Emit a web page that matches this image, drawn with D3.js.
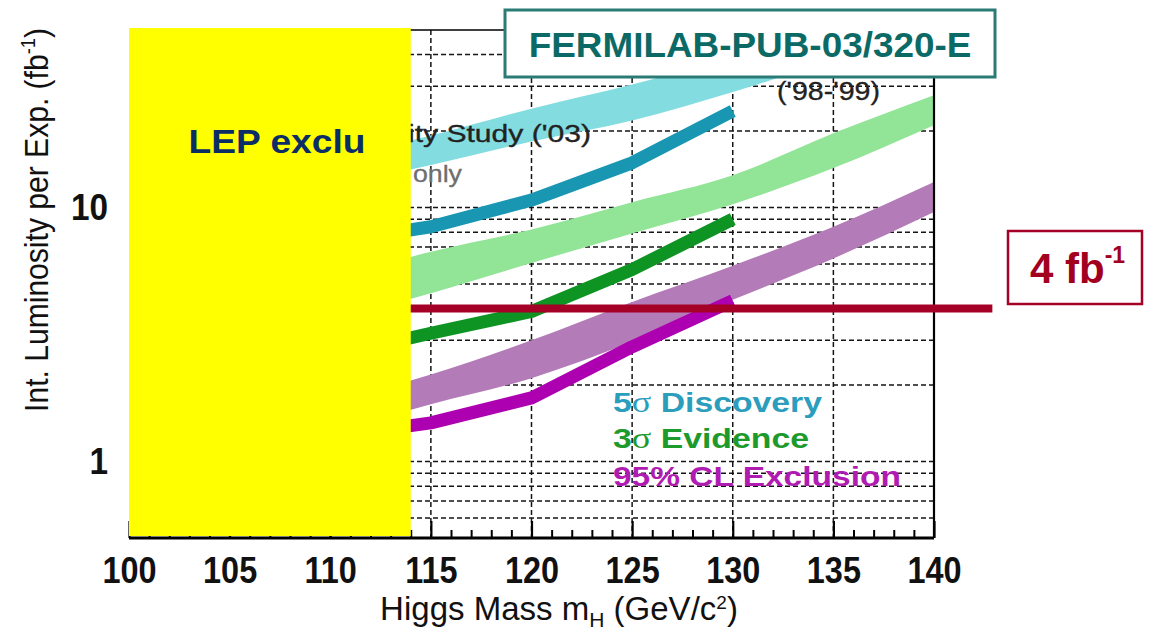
<!DOCTYPE html>
<html>
<head>
<meta charset="utf-8">
<script src="https://cdn.jsdelivr.net/npm/d3@7"></script>
<style>
  html, body { margin: 0; padding: 0; background: #fff; }
  svg { display: block; font-family: "Liberation Sans", Arial, Helvetica, sans-serif; }
</style>
</head>
<body>
<svg id="chart" width="1151" height="633"></svg>
<script>
// ---- data -------------------------------------------------------------
// Higgs mass sample points (GeV/c^2)
const bandMass = [110, 115, 120, 125, 130, 135, 140];
const lineMass = [110, 115, 120, 125, 130];

// SUSY/Higgs Workshop ('98-'99): required luminosity bands (fb^-1 per experiment)
const discovery98Lo = [12.0, 14.7, 18.2, 22.0, 28.5, 38.0, 50.0];
const discovery98Hi = [15.5, 19.2, 24.5, 30.5, 39.0, 50.0, 64.0];
const evidence98Lo  = [3.6, 4.6, 6.05, 7.9, 10.3, 14.3, 21.1];
const evidence98Hi  = [5.2, 6.7, 8.2, 10.5, 13.4, 19.6, 27.7];
const exclusion98Lo = [1.3, 1.68, 2.13, 2.96, 4.33, 6.3, 9.6];
const exclusion98Hi = [1.7, 2.2, 3.0, 4.25, 5.9, 8.4, 12.6];

// Higgs Sensitivity Study ('03), statistical power only
const discovery03 = [7.3, 8.4, 10.7, 15.0, 24.0];
const evidence03  = [2.6, 3.2, 3.9, 5.7, 9.0];
const exclusion03 = [1.25, 1.42, 1.78, 2.83, 4.3];

// axes
const massTicks = [100, 105, 110, 115, 120, 125, 130, 135, 140];
const massMinorTicks = [101,102,103,104,106,107,108,109,111,112,113,114,116,117,118,119,
                        121,122,123,124,126,127,128,129,131,132,133,134,136,137,138,139];
const lumiTicks = [1, 10];
const lumiGrid = [0.6, 0.7, 0.8, 0.9, 1, 2, 3, 4, 5, 6, 7, 8, 9, 10, 20, 30, 40];

// reference values
const lepLimit = 114;            // LEP exclusion (GeV/c^2)
const targetLumi = 4;            // fb^-1
const targetLineMass = [100, 142.9];

// ---- layout -----------------------------------------------------------
const svg = d3.select("#chart");
const x = d3.scaleLinear().domain([100, 140]).range([129, 934]);
const y = d3.scaleLog().domain([0.5, 50]).range([538, 30]);
const [x0, x1] = x.range();
const [yB, yT] = y.range();

svg.append("defs").append("clipPath").attr("id", "plotClip")
  .append("rect").attr("x", x0).attr("y", yT).attr("width", x1 - x0).attr("height", yB - yT);

// horizontal stretch factor that makes a text element span `width` pixels
function fit(sel, width) {
  return width / sel.node().getComputedTextLength();
}
// condense the glyphs of axis tick labels
function condense(sel, k) {
  sel.each(function () {
    const w = this.getComputedTextLength();
    d3.select(this).attr("textLength", w * k).attr("lengthAdjust", "spacingAndGlyphs");
  });
}

// ---- grid -------------------------------------------------------------
const grid = svg.append("g").attr("stroke", "#151515").attr("stroke-width", 1.5)
  .attr("stroke-dasharray", "5,3");
grid.selectAll("line.h").data(lumiGrid).join("line").attr("class", "h")
  .attr("x1", x0).attr("x2", x1).attr("y1", d => y(d)).attr("y2", d => y(d));
grid.selectAll("line.v").data(massTicks.slice(1, -1)).join("line").attr("class", "v")
  .attr("y1", yT).attr("y2", yB).attr("x1", d => x(d)).attr("x2", d => x(d));

// ---- '98-'99 bands ------------------------------------------------------
const plot = svg.append("g").attr("clip-path", "url(#plotClip)");
function band(lo, hi, color) {
  const area = d3.area()
    .x((d, i) => x(bandMass[i]))
    .y0((d, i) => y(lo[i]))
    .y1((d, i) => y(hi[i]))
    .curve(d3.curveMonotoneX);
  plot.append("path").datum(bandMass).attr("d", area).attr("fill", color);
}
band(discovery98Lo, discovery98Hi, "#82dce0");
band(evidence98Lo, evidence98Hi, "#92e496");
band(exclusion98Lo, exclusion98Hi, "#b37bb7");

// ---- '03 curves ---------------------------------------------------------
function curve(vals, color) {
  const line = d3.line()
    .x((d, i) => x(lineMass[i]))
    .y(d => y(d));
  plot.append("path").datum(vals).attr("d", line)
    .attr("fill", "none").attr("stroke", color).attr("stroke-width", 13)
    .attr("stroke-linejoin", "round").attr("stroke-linecap", "butt");
}
curve(discovery03, "#1896b2");
curve(evidence03, "#0e9422");
curve(exclusion03, "#ad00b0");

// ---- axes -------------------------------------------------------------
const gx = svg.append("g").attr("transform", `translate(0,${yB})`)
  .call(d3.axisBottom(x).tickValues(massTicks).tickSizeInner(-17).tickSizeOuter(0)
    .tickPadding(19).tickFormat(d3.format("d")));
gx.select(".domain").remove();
gx.selectAll(".tick line").attr("stroke", "#000").attr("stroke-width", 2.2);
gx.selectAll(".tick text").attr("font-size", 36).attr("font-weight", "bold")
  .attr("fill", "#111").attr("font-family", "Liberation Sans, Arial, sans-serif")
  .call(condense, 0.9);

const gxm = svg.append("g").attr("transform", `translate(0,${yB})`)
  .call(d3.axisBottom(x).tickValues(massMinorTicks).tickSize(-8).tickFormat(""));
gxm.select(".domain").remove();
gxm.selectAll(".tick line").attr("stroke", "#000").attr("stroke-width", 2);

const gy = svg.append("g").attr("transform", `translate(${x0},0)`)
  .call(d3.axisLeft(y).tickValues(lumiTicks).tickSize(0).tickPadding(21)
    .tickFormat(d3.format("d")));
gy.select(".domain").remove();
gy.selectAll(".tick text").attr("font-size", 37).attr("font-weight", "bold")
  .attr("fill", "#111").attr("font-family", "Liberation Sans, Arial, sans-serif")
  .call(condense, 0.9);

// frame (top and right)
svg.append("line").attr("x1", x0).attr("x2", x1).attr("y1", yT).attr("y2", yT)
  .attr("stroke", "#000").attr("stroke-width", 1.6);
svg.append("line").attr("x1", x1).attr("x2", x1).attr("y1", yT).attr("y2", yB)
  .attr("stroke", "#000").attr("stroke-width", 2.2);

// ---- axis titles ------------------------------------------------------
const xt = svg.append("text").attr("font-size", 33).attr("fill", "#111").attr("text-anchor", "middle");
xt.append("tspan").text("Higgs Mass m");
xt.append("tspan").attr("font-size", 21).attr("dy", 7).text("H");
xt.append("tspan").attr("dy", -7).text(" (GeV/c");
xt.append("tspan").attr("font-size", 19).attr("dy", -11).text("2");
xt.append("tspan").attr("dy", 11).text(")");
xt.attr("transform", `translate(559,620) scale(${fit(xt, 358)},1)`);

const yt = svg.append("text").attr("font-size", 33).attr("fill", "#111").attr("text-anchor", "middle");
yt.append("tspan").text("Int. Luminosity per Exp. (fb");
yt.append("tspan").attr("font-size", 20).attr("dy", -13).text("-1");
yt.append("tspan").attr("dy", 13).text(")");
yt.attr("transform", `translate(48,220) rotate(-90) scale(${fit(yt, 384)},1)`);

// ---- in-plot labels ---------------------------------------------------
const study = svg.append("text").attr("font-size", 24).attr("fill", "#222")
  .attr("stroke", "#222").attr("stroke-width", 0.35).text("ity Study ('03)");
study.attr("transform", `translate(408,142) scale(${fit(study, 183)},1)`);
const only = svg.append("text").attr("font-size", 24).attr("fill", "#6e6e6e")
  .attr("stroke", "#6e6e6e").attr("stroke-width", 0.3).text("only");
only.attr("transform", `translate(413,182) scale(${fit(only, 49)},1)`);
const era = svg.append("text").attr("font-size", 25).attr("fill", "#222")
  .attr("stroke", "#222").attr("stroke-width", 0.3).text("('98-'99)");
era.attr("transform", `translate(777,100) scale(${fit(era, 103)},1)`);

const legendItems = [
  { num: "5", rest: " Discovery", color: "#2b9dbd", base: 412, width: 209 },
  { num: "3", rest: " Evidence", color: "#1c9a2c", base: 448, width: 196 },
];
legendItems.forEach(it => {
  const t = svg.append("text").attr("font-size", 28).attr("font-weight", "bold").attr("fill", it.color);
  t.append("tspan").text(it.num);
  t.append("tspan").attr("font-family", "Liberation Serif, serif").attr("font-weight", "normal")
    .attr("font-size", 30).text("σ");
  t.append("tspan").text(it.rest);
  t.attr("transform", `translate(613,${it.base}) scale(${fit(t, it.width)},1)`);
});
const exclLabel = svg.append("text").attr("font-size", 28).attr("font-weight", "bold")
  .attr("fill", "#b01cb2").text("95% CL Exclusion");
exclLabel.attr("transform", `translate(613,486) scale(${fit(exclLabel, 288)},1)`);

// ---- 4 fb^-1 target line ----------------------------------------------
svg.append("line")
  .attr("x1", x(targetLineMass[0])).attr("x2", x(targetLineMass[1]))
  .attr("y1", y(targetLumi)).attr("y2", y(targetLumi))
  .attr("stroke", "#a50026").attr("stroke-width", 8);

// ---- LEP excluded region ----------------------------------------------
svg.append("rect")
  .attr("x", x(100)).attr("y", yT - 2)
  .attr("width", x(lepLimit) - x(100)).attr("height", (yB - 2) - (yT - 2))
  .attr("fill", "#ffff00");
const lep = svg.append("text").attr("font-size", 33).attr("font-weight", "bold")
  .attr("fill", "#0b2d66").attr("text-anchor", "middle").text("LEP exclu");
lep.attr("transform", `translate(277,153) scale(${fit(lep, 177)},1)`);

// bottom axis line, visible below the shaded region
svg.append("line").attr("x1", x0).attr("x2", x1).attr("y1", yB).attr("y2", yB)
  .attr("stroke", "#000").attr("stroke-width", 3);

// ---- publication tag --------------------------------------------------
svg.append("rect").attr("x", 505).attr("y", 10).attr("width", 490).attr("height", 67)
  .attr("fill", "#fff").attr("stroke", "#2a7a75").attr("stroke-width", 3);
const pub = svg.append("text").attr("font-size", 36).attr("font-weight", "bold")
  .attr("fill", "#0c6a66").attr("text-anchor", "middle").text("FERMILAB-PUB-03/320-E");
pub.attr("transform", `translate(750,57) scale(${fit(pub, 443)},1)`);

// ---- 4 fb^-1 tag ------------------------------------------------------
svg.append("rect").attr("x", 1008).attr("y", 231).attr("width", 134).attr("height", 73)
  .attr("fill", "#fff").attr("stroke", "#a50026").attr("stroke-width", 2.5);
const tag = svg.append("text").attr("x", 1030).attr("y", 283).attr("font-size", 42)
  .attr("font-weight", "bold").attr("fill", "#a3001f");
tag.append("tspan").text("4 fb");
tag.append("tspan").attr("font-size", 23).attr("dy", -20).text("-1");
</script>
</body>
</html>
